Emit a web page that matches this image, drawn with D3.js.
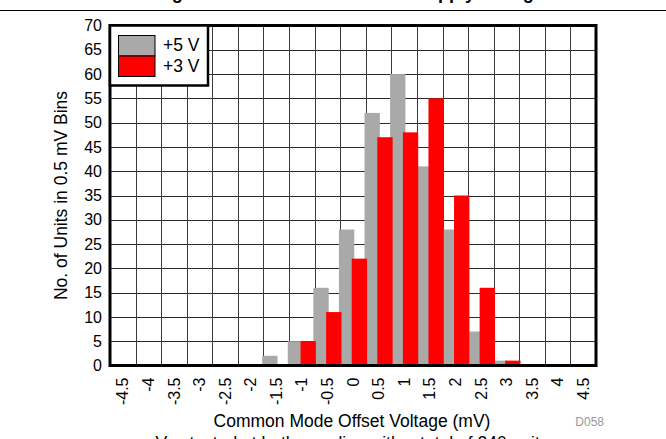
<!DOCTYPE html>
<html>
<head>
<meta charset="utf-8">
<script src="https://cdn.jsdelivr.net/npm/d3@7/dist/d3.min.js"></script>
<style>
  html, body { margin: 0; padding: 0; background: #fff; }
  svg { display: block; font-family: "Liberation Sans", Arial, sans-serif; }
</style>
</head>
<body>
<svg id="chart" width="666" height="439"></svg>
<script>
// ---- data ----
const categories = ["-4.5","-4","-3.5","-3","-2.5","-2","-1.5","-1","-0.5","0","0.5","1","1.5","2","2.5","3","3.5","4","4.5"];
const seriesNames = ["+5 V", "+3 V"];
const values5V = [0,0,0,0,0,0,2,5,16,28,52,60,41,28,7,1,0,0,0];
const values3V = [0,0,0,0,0,0,0,5,11,22,47,48,55,35,16,1,0,0,0];
const yTicks = [0,5,10,15,20,25,30,35,40,45,50,55,60,65,70];
const titleText = "Offset Voltage Distribution Across Both Supply Voltages";
const xTitle = "Common Mode Offset Voltage (mV)";
const yTitle = "No. of Units in 0.5 mV Bins";
const figId = "D058";
const captionText = "Vos tested at both supplies with a total of 240 units";

// ---- layout ----
const svg = d3.select("#chart");
const W = 666, H = 439;
const plot = { left: 110, right: 596, top: 25.5, bottom: 365.5 };
const colors = { "+5 V": "#a9a9a9", "+3 V": "#ff0000" };

const x = d3.scaleBand().domain(categories).range([plot.left, plot.right]).padding(0);
const y = d3.scaleLinear().domain([0, 70]).range([plot.bottom, plot.top]);
const bw = x.bandwidth();

// title (cut off at top) and rule
svg.append("text")
  .attr("x", 72).attr("y", -1.5)
  .attr("font-size", 18).attr("font-weight", "bold")
  .text(titleText);
svg.append("line")
  .attr("x1", 0).attr("x2", W).attr("y1", 10.5).attr("y2", 10.5)
  .attr("stroke", "#000").attr("stroke-width", 1);

// gridlines
const g = svg.append("g");
g.selectAll("line.h").data(yTicks.filter(d => d > 0 && d < 70)).join("line")
  .attr("class", "h")
  .attr("x1", plot.left).attr("x2", plot.right)
  .attr("y1", d => Math.round(y(d)) + 0.5).attr("y2", d => Math.round(y(d)) + 0.5)
  .attr("stroke", "#2a2a2a").attr("stroke-width", 1);
g.selectAll("line.v").data(categories.slice(1)).join("line")
  .attr("class", "v")
  .attr("x1", d => Math.round(x(d)) + 0.5).attr("x2", d => Math.round(x(d)) + 0.5)
  .attr("y1", plot.top).attr("y2", plot.bottom)
  .attr("stroke", "#3a3a3a").attr("stroke-width", 1);

// bars
const rows5 = categories.map((c, i) => ({ c, v: values5V[i] }));
const rows3 = categories.map((c, i) => ({ c, v: values3V[i] }));
svg.append("g").selectAll("rect").data(rows5.filter(d => d.v > 0)).join("rect")
  .attr("x", d => x(d.c) - 0.05 * bw)
  .attr("width", 0.6 * bw)
  .attr("y", d => y(d.v))
  .attr("height", d => y(0) - y(d.v))
  .attr("fill", colors["+5 V"]);
svg.append("g").selectAll("rect").data(rows3.filter(d => d.v > 0)).join("rect")
  .attr("x", d => x(d.c) + 0.45 * bw)
  .attr("width", 0.6 * bw)
  .attr("y", d => y(d.v))
  .attr("height", d => y(0) - y(d.v))
  .attr("fill", colors["+3 V"]);

// plot border
svg.append("rect")
  .attr("x", plot.left).attr("y", plot.top)
  .attr("width", plot.right - plot.left).attr("height", plot.bottom - plot.top)
  .attr("fill", "none").attr("stroke", "#000").attr("stroke-width", 3);

// y axis
const yAxis = d3.axisLeft(y).tickValues(yTicks).tickSize(0).tickPadding(8);
const ya = svg.append("g").attr("transform", `translate(${plot.left},0)`).call(yAxis);
ya.select(".domain").remove();
ya.selectAll("text").attr("font-size", 16).attr("fill", "#000")
  .attr("font-family", "Liberation Sans, Arial, sans-serif");

// x axis
const xAxis = d3.axisBottom(x).tickSize(0).tickPadding(0);
const xa = svg.append("g").attr("transform", `translate(0,${plot.bottom})`).call(xAxis);
xa.select(".domain").remove();
xa.selectAll("text")
  .attr("font-size", 16).attr("fill", "#000")
  .attr("font-family", "Liberation Sans, Arial, sans-serif")
  .attr("transform", "rotate(-90)")
  .attr("text-anchor", "end")
  .attr("x", -12).attr("y", 0).attr("dy", "0.35em");

// axis titles
svg.append("text")
  .attr("x", 352).attr("y", 427)
  .attr("text-anchor", "middle").attr("font-size", 17.5)
  .text(xTitle);
svg.append("text")
  .attr("transform", `translate(67,${(plot.top + plot.bottom) / 2}) rotate(-90)`)
  .attr("text-anchor", "middle").attr("font-size", 17.5)
  .text(yTitle);
svg.append("text")
  .attr("x", 604).attr("y", 426)
  .attr("text-anchor", "end").attr("font-size", 12).attr("fill", "#999")
  .text(figId);

// caption (cut off at bottom)
svg.append("text")
  .attr("x", 352).attr("y", 449)
  .attr("text-anchor", "middle").attr("font-size", 17.5)
  .text(captionText);

// legend
const lg = svg.append("g");
lg.append("rect")
  .attr("x", plot.left).attr("y", plot.top)
  .attr("width", 98).attr("height", 60)
  .attr("fill", "#fff").attr("stroke", "#000").attr("stroke-width", 2.5);
seriesNames.forEach((s, i) => {
  lg.append("rect")
    .attr("x", 118.5).attr("y", 35.5 + i * 20.5)
    .attr("width", 36.5).attr("height", 20.5)
    .attr("fill", colors[s]).attr("stroke", "#000").attr("stroke-width", 1);
  lg.append("text")
    .attr("x", 163).attr("y", 51 + i * 21.3)
    .attr("font-size", 17.5)
    .text(s);
});
</script>
</body>
</html>
